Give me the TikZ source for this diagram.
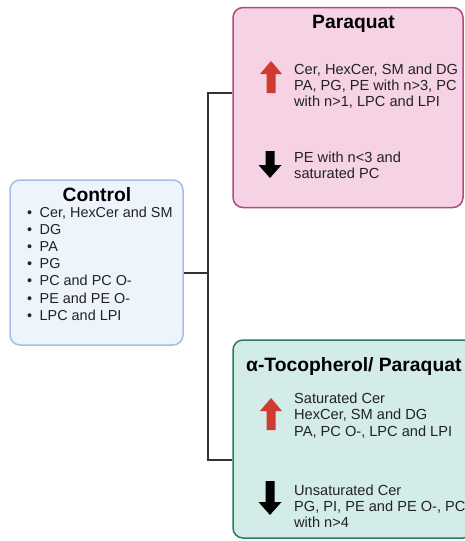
\documentclass[tikz,border=0pt]{standalone}
\usepackage{fontspec}
\setmainfont{Liberation Sans}
\definecolor{ctrlfill}{HTML}{EEF4FC}
\definecolor{ctrlline}{HTML}{A3BEE6}
\definecolor{parafill}{HTML}{F6D3E4}
\definecolor{paraline}{HTML}{B04A84}
\definecolor{tocofill}{HTML}{D3ECE7}
\definecolor{tocoline}{HTML}{2D7866}
\definecolor{txt}{HTML}{222222}
\definecolor{uparrow}{HTML}{D03A30}
\newcommand\myuparrow[3]{% center x, top y, bottom y
  \fill[uparrow] (#1-4.5,#3) -- (#1-4.5,#2+13) -- (#1-11,#2+13) -- (#1,#2) -- (#1+11,#2+13) -- (#1+4.5,#2+13) -- (#1+4.5,#3) -- cycle;}
\newcommand\mydownarrow[3]{% center x, top y, bottom y
  \fill[black] (#1-4.5,#2) -- (#1-4.5,#3-13) -- (#1-11.5,#3-13) -- (#1,#3) -- (#1+11.5,#3-13) -- (#1+4.5,#3-13) -- (#1+4.5,#2) -- cycle;}
\begin{document}
\begin{tikzpicture}[x=1pt,y=-1pt,
  boxbase/.style={draw, line width=1.5pt, rounded corners=10pt, inner sep=0pt},
  titletext/.style={font=\fontsize{19.3}{21}\selectfont\bfseries, text=black, inner sep=0pt},
  bodytext/.style={font=\fontsize{14.6}{16.2}\selectfont, text=txt, align=left, inner sep=0pt, anchor=west},
  link/.style={draw=black!80, line width=1.5pt}]
\useasboundingbox (0,0) rectangle (465,541);
\clip (0,0) rectangle (465,541);
% boxes
\node[boxbase, draw=ctrlline, fill=ctrlfill, minimum width=173pt, minimum height=165pt] (ctrl) at (96.5,262.5) {};
\node[boxbase, draw=paraline, fill=parafill, minimum width=230pt, minimum height=200pt] (para) at (348,107.5) {};
\node[boxbase, draw=tocoline, fill=tocofill, minimum width=240pt, minimum height=198pt] (toco) at (353,439) {};
% connectors
\coordinate (jm) at (208,273);
\coordinate (jt) at (208,93);
\coordinate (jb) at (208,460);
\draw[link] (ctrl.east |- jm) -- (jm);
\draw[link] (para.west |- jt) -- (jt) -- (jb) -- (toco.west |- jb);
% control
\node[titletext] (ctrltitle) at (97,195) {Control};
\node[font=\fontsize{14.4}{17.2}\selectfont, text=txt, align=left, inner sep=0pt, anchor=north west] (ctrllist) at (27,206.5)
  {\textbullet\hspace{7.5pt}Cer, HexCer and SM\\
   \textbullet\hspace{7.5pt}DG\\
   \textbullet\hspace{7.5pt}PA\\
   \textbullet\hspace{7.5pt}PG\\
   \textbullet\hspace{7.5pt}PC and PC O-\\
   \textbullet\hspace{7.5pt}PE and PE O-\\
   \textbullet\hspace{7.5pt}LPC and LPI};
% paraquat
\node[titletext] (paratitle) at (353.5,24) {Paraquat};
\myuparrow{271}{61}{93}
\node[bodytext] (paraup) at (294,86) {Cer, HexCer, SM and DG\\PA, PG, PE with n>3, PC\\with n>1, LPC and LPI};
\mydownarrow{270}{151}{178}
\node[bodytext] (paradown) at (294,165) {PE with n<3 and\\saturated PC};
% tocopherol
\node[titletext, anchor=west] (tocotitle) at (246,367) {α-Tocopherol/ Paraquat};
\myuparrow{271}{398}{430}
\node[bodytext] (tocoup) at (294,415.5) {Saturated Cer\\HexCer, SM and DG\\PA, PC O-, LPC and LPI};
\mydownarrow{270}{481}{515}
\node[bodytext] (tocodown) at (294,506) {Unsaturated Cer\\PG, PI, PE and PE O-, PC\\with n>4};
\end{tikzpicture}
\end{document}
